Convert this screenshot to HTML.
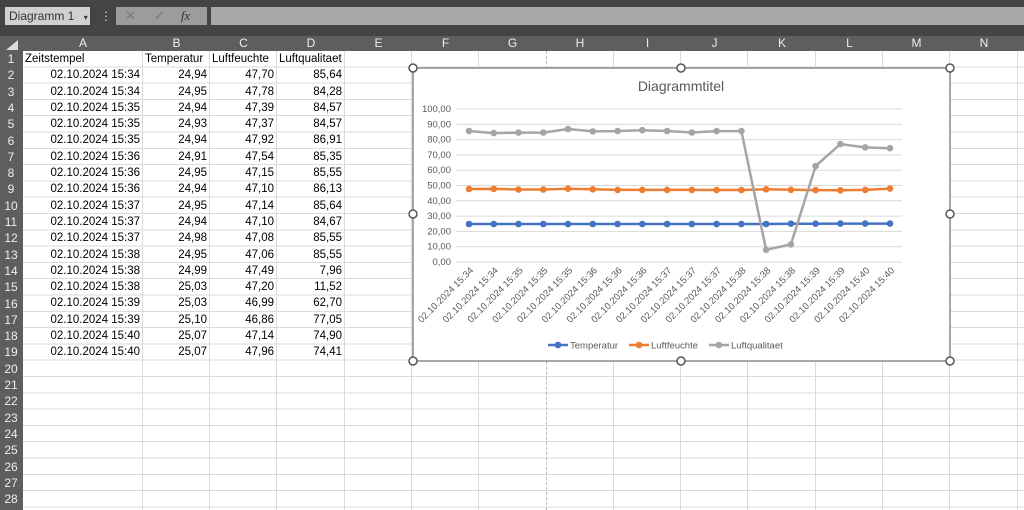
<!DOCTYPE html>
<html><head><meta charset="utf-8"><style>
body{margin:0;width:1024px;height:510px;overflow:hidden;background:#fff;font-family:"Liberation Sans",sans-serif;position:relative}
.a{position:absolute}
.t{position:absolute;font-size:11.5px;color:#000;line-height:16px;white-space:nowrap}
.r{text-align:right}
.rh{position:absolute;left:0;width:22px;text-align:center;font-size:12px;color:#eee;line-height:16px}
.ch{position:absolute;top:36px;height:15px;font-size:12px;color:#eee;text-align:center;line-height:15px}
</style></head><body>
<div class="a" style="left:0;top:0;width:1024px;height:36px;background:#444"></div>
<div class="a" style="left:5px;top:7px;width:85px;height:18px;background:#d0d0d0;font-size:12px;line-height:18px;color:#333;padding-left:4px;box-sizing:border-box">Diagramm 1 <span style="font-size:8px;margin-left:6px">▾</span></div>
<div class="a" style="left:100px;top:9px;color:#ccc;font-size:12px">⋮</div>
<div class="a" style="left:116px;top:7px;width:91px;height:18px;background:#9c9c9c;color:#777;font-size:13px;line-height:18px"><span style="margin-left:9px">✕</span><span style="margin-left:18px">✓</span><span style="margin-left:16px;color:#333;font-style:italic;font-family:'Liberation Serif',serif">fx</span></div>
<div class="a" style="left:211px;top:7px;width:813px;height:18px;background:#a8a8a8"></div>
<div class="a" style="left:0;top:36px;width:1024px;height:15px;background:#5e5e5e"></div>
<div class="a" style="left:0;top:51px;width:23px;height:459px;background:#5e5e5e"></div>
<div class="a" style="left:23px;top:51px;width:1001px;height:459px;background:repeating-linear-gradient(to bottom,transparent 0,transparent 15.3px,#dadada 15.3px,#dadada 16.3px)"></div>
<div class="a" style="left:142px;top:51px;width:1px;height:459px;background:#dadada"></div>
<div class="a" style="left:209px;top:51px;width:1px;height:459px;background:#dadada"></div>
<div class="a" style="left:276px;top:51px;width:1px;height:459px;background:#dadada"></div>
<div class="a" style="left:344px;top:51px;width:1px;height:459px;background:#dadada"></div>
<div class="a" style="left:411px;top:51px;width:1px;height:459px;background:#dadada"></div>
<div class="a" style="left:478px;top:51px;width:1px;height:459px;background:#dadada"></div>
<div class="a" style="left:546px;top:51px;width:0;height:459px;border-left:1px dashed #bbb"></div>
<div class="a" style="left:613px;top:51px;width:1px;height:459px;background:#dadada"></div>
<div class="a" style="left:680px;top:51px;width:1px;height:459px;background:#dadada"></div>
<div class="a" style="left:747px;top:51px;width:1px;height:459px;background:#dadada"></div>
<div class="a" style="left:815px;top:51px;width:1px;height:459px;background:#dadada"></div>
<div class="a" style="left:882px;top:51px;width:1px;height:459px;background:#dadada"></div>
<div class="a" style="left:949px;top:51px;width:1px;height:459px;background:#dadada"></div>
<div class="a" style="left:1017px;top:51px;width:1px;height:459px;background:#dadada"></div>
<div class="a" style="left:6px;top:40px;width:0;height:0;border-left:12px solid transparent;border-bottom:10px solid #ddd"></div>
<div class="ch" style="left:23px;width:120px">A</div><div class="ch" style="left:143px;width:67px">B</div><div class="ch" style="left:210px;width:67px">C</div><div class="ch" style="left:277px;width:68px">D</div><div class="ch" style="left:345px;width:67px">E</div><div class="ch" style="left:412px;width:67px">F</div><div class="ch" style="left:479px;width:67px">G</div><div class="ch" style="left:546px;width:68px">H</div><div class="ch" style="left:614px;width:67px">I</div><div class="ch" style="left:681px;width:67px">J</div><div class="ch" style="left:748px;width:68px">K</div><div class="ch" style="left:816px;width:67px">L</div><div class="ch" style="left:883px;width:67px">M</div><div class="ch" style="left:950px;width:68px">N</div>
<div class="rh" style="top:51px">1</div><div class="rh" style="top:67.3px">2</div><div class="rh" style="top:83.6px">3</div><div class="rh" style="top:99.9px">4</div><div class="rh" style="top:116.2px">5</div><div class="rh" style="top:132.5px">6</div><div class="rh" style="top:148.8px">7</div><div class="rh" style="top:165.1px">8</div><div class="rh" style="top:181.4px">9</div><div class="rh" style="top:197.7px">10</div><div class="rh" style="top:214px">11</div><div class="rh" style="top:230.3px">12</div><div class="rh" style="top:246.6px">13</div><div class="rh" style="top:262.9px">14</div><div class="rh" style="top:279.2px">15</div><div class="rh" style="top:295.5px">16</div><div class="rh" style="top:311.8px">17</div><div class="rh" style="top:328.1px">18</div><div class="rh" style="top:344.4px">19</div><div class="rh" style="top:360.7px">20</div><div class="rh" style="top:377px">21</div><div class="rh" style="top:393.3px">22</div><div class="rh" style="top:409.6px">23</div><div class="rh" style="top:425.9px">24</div><div class="rh" style="top:442.2px">25</div><div class="rh" style="top:458.5px">26</div><div class="rh" style="top:474.8px">27</div><div class="rh" style="top:491.1px">28</div>
<div class="t" style="left:25px;top:51px">Zeitstempel</div><div class="t" style="left:145px;top:51px">Temperatur</div><div class="t" style="left:212px;top:51px">Luftfeuchte</div><div class="t" style="left:279px;top:51px">Luftqualitaet</div>
<div class="t r" style="left:23px;width:117px;top:67.3px">02.10.2024 15:34<br>02.10.2024 15:34<br>02.10.2024 15:35<br>02.10.2024 15:35<br>02.10.2024 15:35<br>02.10.2024 15:36<br>02.10.2024 15:36<br>02.10.2024 15:36<br>02.10.2024 15:37<br>02.10.2024 15:37<br>02.10.2024 15:37<br>02.10.2024 15:38<br>02.10.2024 15:38<br>02.10.2024 15:38<br>02.10.2024 15:39<br>02.10.2024 15:39<br>02.10.2024 15:40<br>02.10.2024 15:40</div>
<div class="t r" style="left:143px;width:64px;top:67.3px">24,94<br>24,95<br>24,94<br>24,93<br>24,94<br>24,91<br>24,95<br>24,94<br>24,95<br>24,94<br>24,98<br>24,95<br>24,99<br>25,03<br>25,03<br>25,10<br>25,07<br>25,07</div>
<div class="t r" style="left:210px;width:64px;top:67.3px">47,70<br>47,78<br>47,39<br>47,37<br>47,92<br>47,54<br>47,15<br>47,10<br>47,14<br>47,10<br>47,08<br>47,06<br>47,49<br>47,20<br>46,99<br>46,86<br>47,14<br>47,96</div>
<div class="t r" style="left:277px;width:65px;top:67.3px">85,64<br>84,28<br>84,57<br>84,57<br>86,91<br>85,35<br>85,55<br>86,13<br>85,64<br>84,67<br>85,55<br>85,55<br>7,96<br>11,52<br>62,70<br>77,05<br>74,90<br>74,41</div>
<style>.t.r{line-height:16.3px}</style>
<svg class="a" style="left:0;top:0" width="1024" height="510" font-family="Liberation Sans,sans-serif">
<rect x="413" y="68" width="537" height="293" fill="#fff" stroke="#8a8a8a" stroke-width="1.5"/>
<text x="681" y="91" font-size="14" fill="#595959" text-anchor="middle">Diagrammtitel</text>
<g stroke="#d9d9d9" stroke-width="1">
<line x1="456" x2="902" y1="109" y2="109"/><line x1="456" x2="902" y1="124.3" y2="124.3"/><line x1="456" x2="902" y1="139.6" y2="139.6"/><line x1="456" x2="902" y1="154.9" y2="154.9"/><line x1="456" x2="902" y1="170.2" y2="170.2"/><line x1="456" x2="902" y1="185.5" y2="185.5"/><line x1="456" x2="902" y1="200.8" y2="200.8"/><line x1="456" x2="902" y1="216.1" y2="216.1"/><line x1="456" x2="902" y1="231.4" y2="231.4"/><line x1="456" x2="902" y1="246.7" y2="246.7"/><line x1="456" x2="902" y1="262" y2="262"/>
</g>
<g font-size="9.5" fill="#595959" text-anchor="end">
<text x="451" y="112">100,00</text><text x="451" y="127.3">90,00</text><text x="451" y="142.6">80,00</text><text x="451" y="157.9">70,00</text><text x="451" y="173.2">60,00</text><text x="451" y="188.5">50,00</text><text x="451" y="203.8">40,00</text><text x="451" y="219.1">30,00</text><text x="451" y="234.4">20,00</text><text x="451" y="249.7">10,00</text><text x="451" y="265">0,00</text>
</g>
<g font-size="9.5" fill="#595959" text-anchor="end">
<text transform="translate(474,271) rotate(-45)">02.10.2024 15:34</text>
<text transform="translate(498.8,271) rotate(-45)">02.10.2024 15:34</text>
<text transform="translate(523.5,271) rotate(-45)">02.10.2024 15:35</text>
<text transform="translate(548.3,271) rotate(-45)">02.10.2024 15:35</text>
<text transform="translate(573,271) rotate(-45)">02.10.2024 15:35</text>
<text transform="translate(597.8,271) rotate(-45)">02.10.2024 15:36</text>
<text transform="translate(622.6,271) rotate(-45)">02.10.2024 15:36</text>
<text transform="translate(647.3,271) rotate(-45)">02.10.2024 15:36</text>
<text transform="translate(672.1,271) rotate(-45)">02.10.2024 15:37</text>
<text transform="translate(696.8,271) rotate(-45)">02.10.2024 15:37</text>
<text transform="translate(721.6,271) rotate(-45)">02.10.2024 15:37</text>
<text transform="translate(746.4,271) rotate(-45)">02.10.2024 15:38</text>
<text transform="translate(771.1,271) rotate(-45)">02.10.2024 15:38</text>
<text transform="translate(795.9,271) rotate(-45)">02.10.2024 15:38</text>
<text transform="translate(820.6,271) rotate(-45)">02.10.2024 15:39</text>
<text transform="translate(845.4,271) rotate(-45)">02.10.2024 15:39</text>
<text transform="translate(870.2,271) rotate(-45)">02.10.2024 15:40</text>
<text transform="translate(895,271) rotate(-45)">02.10.2024 15:40</text>
</g>
<g fill="none" stroke-width="2.5" stroke-linejoin="round">
<polyline stroke="#4472c4" points="469,224 493.8,224 518.5,224 543.3,224 568,224 592.8,224 617.6,224 642.3,224 667.1,224 691.8,224 716.6,224 741.4,224 766.1,224 790.9,223.7 815.6,223.7 840.4,223.6 865.2,223.6 890,223.6"/>
<polyline stroke="#ed7d31" points="469,189 493.8,188.9 518.5,189.5 543.3,189.5 568,188.7 592.8,189.3 617.6,189.9 642.3,189.9 667.1,189.9 691.8,189.9 716.6,190 741.4,190 766.1,189.3 790.9,189.8 815.6,190.1 840.4,190.3 865.2,189.9 890,188.6"/>
<polyline stroke="#a5a5a5" points="469,131 493.8,133.1 518.5,132.6 543.3,132.6 568,129 592.8,131.4 617.6,131.1 642.3,130.2 667.1,131 691.8,132.5 716.6,131.1 741.4,131.1 766.1,249.8 790.9,244.4 815.6,166.1 840.4,144.1 865.2,147.4 890,148.2"/>
</g>
<g fill="#4472c4"><circle cx="469" cy="224" r="3.3"/><circle cx="493.8" cy="224" r="3.3"/><circle cx="518.5" cy="224" r="3.3"/><circle cx="543.3" cy="224" r="3.3"/><circle cx="568" cy="224" r="3.3"/><circle cx="592.8" cy="224" r="3.3"/><circle cx="617.6" cy="224" r="3.3"/><circle cx="642.3" cy="224" r="3.3"/><circle cx="667.1" cy="224" r="3.3"/><circle cx="691.8" cy="224" r="3.3"/><circle cx="716.6" cy="224" r="3.3"/><circle cx="741.4" cy="224" r="3.3"/><circle cx="766.1" cy="224" r="3.3"/><circle cx="790.9" cy="223.7" r="3.3"/><circle cx="815.6" cy="223.7" r="3.3"/><circle cx="840.4" cy="223.6" r="3.3"/><circle cx="865.2" cy="223.6" r="3.3"/><circle cx="890" cy="223.6" r="3.3"/></g>
<g fill="#ed7d31"><circle cx="469" cy="189" r="3.3"/><circle cx="493.8" cy="188.9" r="3.3"/><circle cx="518.5" cy="189.5" r="3.3"/><circle cx="543.3" cy="189.5" r="3.3"/><circle cx="568" cy="188.7" r="3.3"/><circle cx="592.8" cy="189.3" r="3.3"/><circle cx="617.6" cy="189.9" r="3.3"/><circle cx="642.3" cy="189.9" r="3.3"/><circle cx="667.1" cy="189.9" r="3.3"/><circle cx="691.8" cy="189.9" r="3.3"/><circle cx="716.6" cy="190" r="3.3"/><circle cx="741.4" cy="190" r="3.3"/><circle cx="766.1" cy="189.3" r="3.3"/><circle cx="790.9" cy="189.8" r="3.3"/><circle cx="815.6" cy="190.1" r="3.3"/><circle cx="840.4" cy="190.3" r="3.3"/><circle cx="865.2" cy="189.9" r="3.3"/><circle cx="890" cy="188.6" r="3.3"/></g>
<g fill="#a5a5a5"><circle cx="469" cy="131" r="3.3"/><circle cx="493.8" cy="133.1" r="3.3"/><circle cx="518.5" cy="132.6" r="3.3"/><circle cx="543.3" cy="132.6" r="3.3"/><circle cx="568" cy="129" r="3.3"/><circle cx="592.8" cy="131.4" r="3.3"/><circle cx="617.6" cy="131.1" r="3.3"/><circle cx="642.3" cy="130.2" r="3.3"/><circle cx="667.1" cy="131" r="3.3"/><circle cx="691.8" cy="132.5" r="3.3"/><circle cx="716.6" cy="131.1" r="3.3"/><circle cx="741.4" cy="131.1" r="3.3"/><circle cx="766.1" cy="249.8" r="3.3"/><circle cx="790.9" cy="244.4" r="3.3"/><circle cx="815.6" cy="166.1" r="3.3"/><circle cx="840.4" cy="144.1" r="3.3"/><circle cx="865.2" cy="147.4" r="3.3"/><circle cx="890" cy="148.2" r="3.3"/></g>
<g font-size="9.5" fill="#595959">
<line x1="548" x2="568" y1="345" y2="345" stroke="#4472c4" stroke-width="2.5"/><circle cx="558" cy="345" r="3.3" fill="#4472c4"/><text x="570" y="348.5">Temperatur</text>
<line x1="629" x2="649" y1="345" y2="345" stroke="#ed7d31" stroke-width="2.5"/><circle cx="639" cy="345" r="3.3" fill="#ed7d31"/><text x="651" y="348.5">Luftfeuchte</text>
<line x1="709" x2="729" y1="345" y2="345" stroke="#a5a5a5" stroke-width="2.5"/><circle cx="719" cy="345" r="3.3" fill="#a5a5a5"/><text x="731" y="348.5">Luftqualitaet</text>
</g>
<g fill="#fff" stroke="#555" stroke-width="1.5">
<circle cx="413" cy="68" r="4"/><circle cx="681" cy="68" r="4"/><circle cx="950" cy="68" r="4"/><circle cx="413" cy="214" r="4"/><circle cx="950" cy="214" r="4"/><circle cx="413" cy="361" r="4"/><circle cx="681" cy="361" r="4"/><circle cx="950" cy="361" r="4"/>
</g>
</svg>
</body></html>
